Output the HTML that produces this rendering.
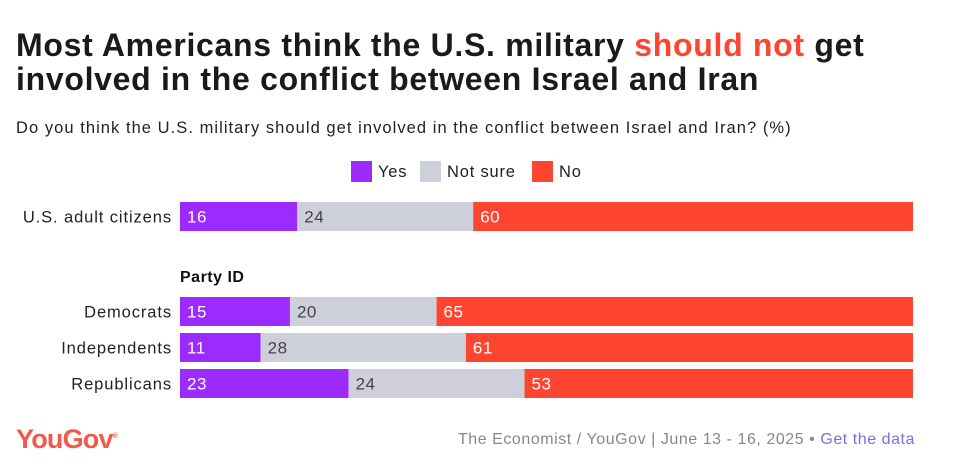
<!DOCTYPE html>
<html><head><meta charset="utf-8"><style>
body{margin:0;width:967px;height:466px;background:#fff;font-family:"Liberation Sans",sans-serif;position:relative;overflow:hidden}
.t{position:absolute;white-space:nowrap}
</style></head><body>
<div class="t" style="left:16px;top:28px;font-size:32px;font-weight:bold;line-height:34px;color:#1a1a1a;letter-spacing:0.7px">Most Americans think the U.S. military <span style="color:#ff4530">should not</span> get<br>involved in the conflict between Israel and Iran</div>
<div class="t" style="left:16px;top:119px;font-size:16.5px;color:#222;letter-spacing:1.05px">Do you think the U.S. military should get involved in the conflict between Israel and Iran? (%)</div>
<div class="t" style="left:180px;top:269px;font-size:16px;font-weight:bold;color:#111;letter-spacing:0.5px">Party ID</div>
<svg id="c" width="967" height="466" style="position:absolute;left:0;top:0"></svg>
<div class="t" style="left:16px;top:424px;font-size:27px;font-weight:bold;color:#f05a4a;letter-spacing:-0.8px">YouGov<sup style="font-size:7px">®</sup></div>
<div class="t" style="right:52px;top:431px;font-size:16px;color:#888;letter-spacing:0.55px">The Economist / YouGov | June 13 - 16, 2025 • <span style="color:#7b6fe0">Get the data</span></div>
<script>
const categories=["U.S. adult citizens","Democrats","Independents","Republicans"];
const yesVals=[16,15,11,23];
const notSureVals=[24,20,28,24];
const noVals=[60,65,61,53];
const seriesNames=["Yes","Not sure","No"];
const colors=["#9b2bff","#cdd0da","#ff4530"];
const textColors=["#fff","#444","#fff"];
const rowTops=[202,297,333,369];
const svg=document.getElementById('c');const NS="http://www.w3.org/2000/svg";
const x0=180,x1=913,bh=29;
const xs=v=>v/100*(x1-x0);
function mk(tag,a){const e=document.createElementNS(NS,tag);for(const k in a)e.setAttribute(k,a[k]);svg.appendChild(e);return e;}
const series=[yesVals,notSureVals,noVals];
categories.forEach((c,i)=>{
  const y=rowTops[i];
  const lab=mk('text',{x:172,y:y+bh/2+6,'text-anchor':'end','font-size':16.5,fill:'#222','letter-spacing':0.9});
  lab.textContent=c;
  
  
  let cx=x0;
  series.forEach((s,j)=>{
    const w=xs(s[i]);
    const r=mk('rect',{x:cx,y:y,width:w,height:bh,fill:colors[j]});
    
    
    const t=mk('text',{x:cx+7,y:y+bh/2+6,'font-size':17,fill:textColors[j],'letter-spacing':0.5});
    t.textContent=s[i];
    
    
    cx+=w;
  });
});
const legX=[351,420,532];
seriesNames.forEach((n,j)=>{
  const r=mk('rect',{x:legX[j],y:161,width:21,height:21,fill:colors[j]});
  
  
  const t=mk('text',{x:legX[j]+27,y:177,'font-size':16.5,fill:'#222','letter-spacing':0.8});
  t.textContent=n;
  
  
});
</script>
</body></html>
